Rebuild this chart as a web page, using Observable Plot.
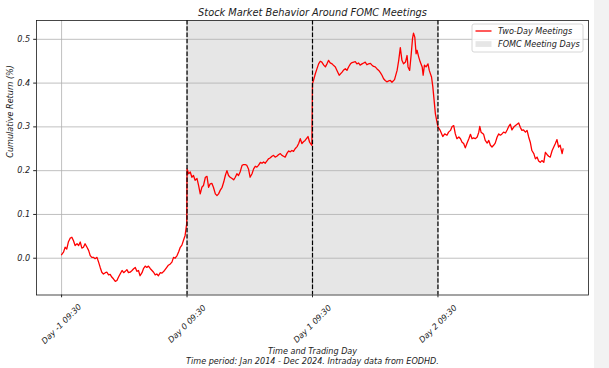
<!DOCTYPE html>
<html><head><meta charset="utf-8">
<script src="https://cdn.jsdelivr.net/npm/d3@7"></script>
<script src="https://cdn.jsdelivr.net/npm/@observablehq/plot@0.6"></script>
<style>
html,body{margin:0;padding:0;}
body{width:609px;height:368px;overflow:hidden;background:linear-gradient(to right,#fff 0,#fff 594px,#f2f2f2 594px);}
</style></head><body><div id="chart"></div>
<script>
// Trading minutes since Day -1 09:30 (390 trading minutes per day)
const minutes = [
0,6,11,16,21,27,32,37,42,48,53,58,63,68,73,79,84,89,94,99,104,110,115,120,125,130,136,141,146,151,156,161,167,172,177,182,188,193,198,203,208,213,219,224,229,234,239,244,250,255,260,265,270,276,281,286,291,296,301,307,312,320,327,332,338,343,348,353,359,364,369,374,379,384,386,389,
390,395,400,405,410,415,421,426,431,436,441,447,452,457,462,467,472,478,483,488,493,499,504,509,514,519,524,530,535,540,545,550,555,561,566,571,576,581,586,592,597,602,607,612,618,623,628,633,638,643,648,654,659,664,669,675,680,685,690,695,701,706,711,716,721,726,732,737,742,747,752,757,766,771,774,778,
780,783,789,794,799,804,809,815,820,825,830,835,841,846,851,856,863,872,877,882,887,893,898,903,908,913,918,923,928,934,939,944,949,954,960,965,970,975,980,986,991,996,1001,1006,1011,1017,1022,1027,1035,1043,1048,1053,1058,1063,1069,1074,1077,1082,1087,1091,1094,1098,1102,1105,1110,1115,1121,1124,1128,1133,1139,1143,1150,1154,1158,1162,1167,
1170,1177,1185,1191,1198,1203,1209,1214,1219,1224,1229,1235,1240,1245,1250,1255,1260,1266,1271,1276,1281,1286,1292,1297,1300,1304,1312,1317,1323,1328,1333,1338,1343,1348,1354,1359,1364,1369,1374,1380,1385,1390,1395,1400,1405,1411,1416,1421,1426,1431,1436,1442,1447,1452,1457,1462,1468,1473,1478,1483,1488,1493,1499,1504,1509,1514,1519,1525,1530,1535,1540,1545,1550,1556,1559
];
// Cumulative return (%)
const cumReturn = [
0.008,0.014,0.025,0.021,0.037,0.046,0.048,0.040,0.029,0.033,0.029,0.037,0.023,0.025,0.033,0.025,0.018,0.006,0.002,0.002,-0.001,0.002,-0.009,-0.021,-0.032,-0.036,-0.033,-0.032,-0.038,-0.037,-0.043,-0.047,-0.053,-0.051,-0.043,-0.036,-0.028,-0.033,-0.030,-0.026,-0.033,-0.032,-0.028,-0.024,-0.021,-0.030,-0.028,-0.040,-0.033,-0.023,-0.018,-0.021,-0.018,-0.024,-0.028,-0.032,-0.038,-0.036,-0.040,-0.033,-0.034,-0.028,-0.021,-0.016,-0.013,-0.009,0.002,0.000,0.006,0.015,0.025,0.030,0.041,0.052,0.063,0.079,
0.204,0.193,0.197,0.185,0.189,0.178,0.182,0.166,0.147,0.162,0.166,0.185,0.187,0.162,0.170,0.171,0.162,0.147,0.143,0.147,0.155,0.162,0.174,0.189,0.200,0.189,0.185,0.182,0.179,0.185,0.193,0.189,0.197,0.212,0.214,0.214,0.212,0.204,0.185,0.193,0.204,0.210,0.208,0.212,0.219,0.217,0.220,0.217,0.222,0.227,0.229,0.233,0.235,0.231,0.233,0.237,0.239,0.235,0.233,0.231,0.240,0.245,0.243,0.246,0.244,0.250,0.255,0.262,0.273,0.262,0.266,0.269,0.278,0.265,0.262,0.258,
0.399,0.406,0.422,0.433,0.444,0.450,0.448,0.441,0.437,0.444,0.452,0.446,0.444,0.440,0.437,0.429,0.418,0.425,0.430,0.433,0.429,0.438,0.444,0.447,0.448,0.449,0.444,0.446,0.441,0.444,0.446,0.448,0.442,0.444,0.445,0.441,0.438,0.437,0.433,0.429,0.424,0.418,0.410,0.406,0.403,0.405,0.406,0.402,0.408,0.429,0.452,0.481,0.452,0.444,0.448,0.463,0.437,0.429,0.467,0.502,0.514,0.505,0.467,0.475,0.460,0.448,0.437,0.418,0.441,0.437,0.444,0.429,0.414,0.392,0.361,0.330,0.311,
0.300,0.292,0.278,0.284,0.281,0.288,0.292,0.301,0.303,0.284,0.273,0.277,0.273,0.265,0.262,0.252,0.262,0.273,0.283,0.273,0.275,0.273,0.277,0.288,0.301,0.288,0.283,0.269,0.263,0.269,0.258,0.254,0.258,0.263,0.277,0.284,0.281,0.284,0.288,0.286,0.293,0.301,0.306,0.293,0.299,0.303,0.306,0.309,0.299,0.292,0.293,0.288,0.292,0.277,0.265,0.246,0.239,0.227,0.231,0.222,0.219,0.223,0.219,0.242,0.237,0.233,0.231,0.246,0.254,0.262,0.271,0.254,0.258,0.239,0.250
];
const tickMinutes = [0, 390, 780, 1170];
const tickLabels = ["Day -1 09:30", "Day 0 09:30", "Day 1 09:30", "Day 2 09:30"];
const yTicks = [0, 0.1, 0.2, 0.3, 0.4, 0.5];
const meetingSpan = [{start: 390, end: 1170}];
const meetingDayStarts = [390, 780, 1170];
const seriesName = "Two-Day Meetings";
const spanName = "FOMC Meeting Days";
const titleText = "Stock Market Behavior Around FOMC Meetings";
const xLabelText = "Time and Trading Day";
const captionText = "Time period: Jan 2014 - Dec 2024. Intraday data from EODHD.";
const yLabelText = "Cumulative Return (%)";

const data = minutes.map((m, i) => ({m, r: cumReturn[i]}));
const ticks = tickMinutes.map((m, i) => ({m, label: tickLabels[i]}));

const chart = Plot.plot({
  width: 609, height: 368,
  marginLeft: 36, marginRight: 21, marginTop: 20, marginBottom: 73.5,
  style: {fontFamily: "DejaVu Sans, sans-serif", fontStyle: "italic", fontSize: "8.1px", color: "#222", background: "transparent", overflow: "visible"},
  x: {domain: [-78, 1638], axis: null},
  y: {domain: [-0.084, 0.543], axis: null},
  marks: [
    Plot.rect(meetingSpan, {x1: "start", x2: "end", fill: "#808080", fillOpacity: 0.2}),
    Plot.gridY(yTicks, {stroke: "#b0b0b0", strokeOpacity: 1, strokeWidth: 0.8}),
    Plot.gridX(tickMinutes, {stroke: "#b0b0b0", strokeOpacity: 1, strokeWidth: 0.8}),
    Plot.line(data, {x: "m", y: "r", stroke: "#ff0000", strokeWidth: 1.3}),
    Plot.ruleX(meetingDayStarts, {stroke: "#000", strokeWidth: 1.2, strokeDasharray: "4.4,1.9"}),
    Plot.frame({stroke: "#1a1a1a", strokeWidth: 0.8}),
    Plot.axisY(yTicks, {tickSize: 2.8, tickPadding: 3.5, tickFormat: d3.format(".1f"), label: null}),
    Plot.axisX(tickMinutes, {tickSize: 2.8, tickFormat: () => "", label: null}),
    Plot.text(ticks, {x: "m", text: "label", frameAnchor: "bottom", dy: 29, rotate: -45, textAnchor: "middle", lineAnchor: "middle"}),
    Plot.text([yLabelText], {text: d => d, frameAnchor: "left", dx: -26.3, rotate: -90, lineAnchor: "middle"}),
    Plot.text([titleText], {text: d => d, frameAnchor: "top", dy: -8, fontSize: 9.8, lineAnchor: "middle"}),
    Plot.text([xLabelText], {text: d => d, frameAnchor: "bottom", dy: 56, lineAnchor: "middle"}),
    Plot.text([captionText], {text: d => d, frameAnchor: "bottom", dy: 66, lineAnchor: "middle"})
  ]
});

// Legend (upper right, matplotlib style)
const svg = d3.select(chart);
const g = svg.append("g").attr("font-size", "8.1px").attr("fill", "#222").attr("text-anchor", "start");
g.append("rect").attr("x", 472).attr("y", 24).attr("width", 111).attr("height", 28).attr("rx", 2)
  .attr("fill", "#fff").attr("fill-opacity", 0.8).attr("stroke", "#cccccc").attr("stroke-width", 0.8);
g.append("line").attr("x1", 475.5).attr("x2", 491.5).attr("y1", 31).attr("y2", 31)
  .attr("stroke", "#ff0000").attr("stroke-width", 1.3);
g.append("text").attr("x", 498).attr("y", 31).attr("dy", "0.35em").attr("text-anchor", "start").text(seriesName);
g.append("rect").attr("x", 475.5).attr("y", 41.2).attr("width", 16).attr("height", 5.7)
  .attr("fill", "#808080").attr("fill-opacity", 0.2);
g.append("text").attr("x", 498).attr("y", 44).attr("dy", "0.35em").attr("text-anchor", "start").text(spanName);

document.getElementById("chart").appendChild(chart);
</script></body></html>
